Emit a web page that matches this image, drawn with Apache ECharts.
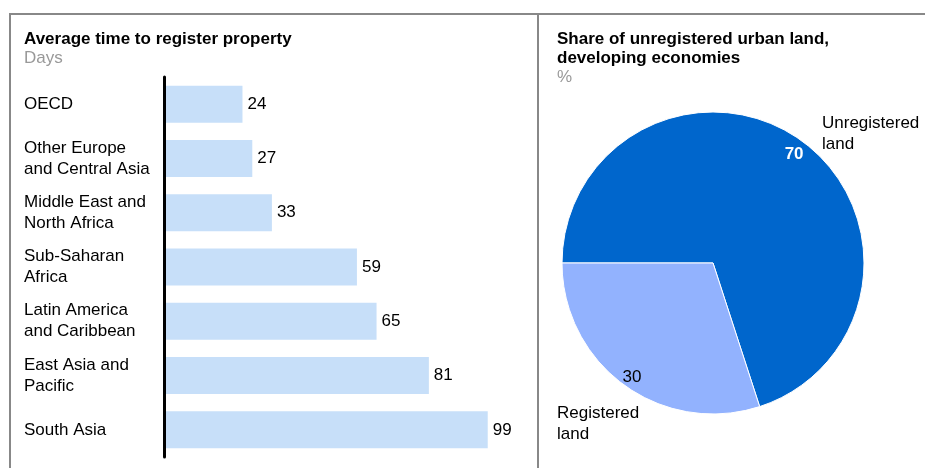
<!DOCTYPE html>
<html>
<head>
<meta charset="utf-8">
<script src="https://cdn.jsdelivr.net/npm/echarts@6/dist/echarts.min.js"></script>
<style>
  html, body { margin: 0; padding: 0; background: #fff; }
  #chart { width: 925px; height: 468px; }
</style>
</head>
<body>
<div id="chart"></div>
<script>
// Average time to register property, days
const regions = [
  'OECD',
  'Other Europe\nand Central Asia',
  'Middle East and\nNorth Africa',
  'Sub-Saharan\nAfrica',
  'Latin America\nand Caribbean',
  'East Asia and\nPacific',
  'South Asia'
];
const daysToRegister = [24, 27, 33, 59, 65, 81, 99];

// Share of unregistered urban land, developing economies (%)
const landNames = ['Unregistered\nland', 'Registered\nland'];
const landShares = [70, 30];

const FONT = '"Liberation Sans", Arial, sans-serif';
const pieCenter = [713, 263];
const pieRadius = 151;

const pieData = landNames.map((n, i) => ({ name: n, value: landShares[i] }));

const chart = echarts.init(document.getElementById('chart'), null, { renderer: 'canvas' });

const titleStyle = { fontFamily: FONT, fontSize: 17, fontWeight: 'bold', color: '#000', lineHeight: 19 };
const subStyle = { fontFamily: FONT, fontSize: 17, color: '#999', lineHeight: 19 };

chart.setOption({
  animation: false,
  textStyle: { fontFamily: FONT },
  title: [
    {
      text: 'Average time to register property',
      subtext: 'Days',
      left: 24, top: 30, padding: 0,
      itemGap: 0,
      textStyle: titleStyle,
      subtextStyle: subStyle
    },
    {
      text: 'Share of unregistered urban land,\ndeveloping economies',
      subtext: '%',
      left: 557, top: 30, padding: 0,
      itemGap: 0,
      textStyle: titleStyle,
      subtextStyle: subStyle
    }
  ],
  graphic: [
    { type: 'line', silent: true, shape: { x1: 10, y1: 14, x2: 925, y2: 14 }, style: { stroke: '#888', lineWidth: 2 } },
    { type: 'line', silent: true, shape: { x1: 10, y1: 13, x2: 10, y2: 468 }, style: { stroke: '#888', lineWidth: 2 } },
    { type: 'line', silent: true, shape: { x1: 538, y1: 13, x2: 538, y2: 468 }, style: { stroke: '#888', lineWidth: 2 } }
  ],
  grid: { left: 164, top: 77, width: 327, height: 380 },
  xAxis: {
    type: 'value', min: 0, max: 100,
    show: false
  },
  yAxis: {
    type: 'category',
    data: regions,
    inverse: true,
    z: 5,
    axisLine: { show: true, lineStyle: { color: '#000', width: 3 } },
    axisTick: { show: false },
    axisLabel: {
      align: 'left', margin: 140,
      fontFamily: FONT, fontSize: 17, lineHeight: 21, color: '#000'
    }
  },
  series: [
    {
      type: 'bar',
      data: daysToRegister,
      barWidth: 37,
      z: 1,
      itemStyle: { color: '#C7DFF9' },
      label: {
        show: true, position: 'right', distance: 5,
        fontFamily: FONT, fontSize: 17, color: '#000'
      }
    },
    {
      type: 'pie',
      center: pieCenter,
      radius: pieRadius,
      startAngle: 180,
      clockwise: true,
      silent: true,
      data: pieData,
      itemStyle: { borderColor: '#fff', borderWidth: 1 },
      color: ['#0066CC', '#92B2FE'],
      label: {
        show: true, position: 'outside', overflow: 'none',
        fontFamily: FONT, fontSize: 17, lineHeight: 21, color: '#000', align: 'left'
      },
      labelLine: { show: false },
      labelLayout: function (p) {
        if (p.dataIndex === 0) {
          return { x: pieCenter[0] + 109, y: pieCenter[1] - 129, align: 'left', verticalAlign: 'middle', width: 120 };
        }
        return { x: pieCenter[0] - 156, y: pieCenter[1] + 161, align: 'left', verticalAlign: 'middle', width: 120 };
      }
    },
    {
      // value labels placed near the rim of each slice
      type: 'pie',
      center: pieCenter,
      radius: [pieRadius - 32, pieRadius],
      startAngle: 180,
      clockwise: true,
      silent: true,
      z: 3,
      data: pieData.map((d, i) => ({
        name: d.name, value: d.value,
        label: i === 0 ? { color: '#fff', fontWeight: 'bold' } : { color: '#000' }
      })),
      itemStyle: { color: 'rgba(0,0,0,0)', borderWidth: 0 },
      label: {
        show: true, position: 'inside', formatter: '{c}',
        fontFamily: FONT, fontSize: 17
      },
      labelLine: { show: false },
      labelLayout: { dy: 3 }
    }
  ]
});
</script>
</body>
</html>
